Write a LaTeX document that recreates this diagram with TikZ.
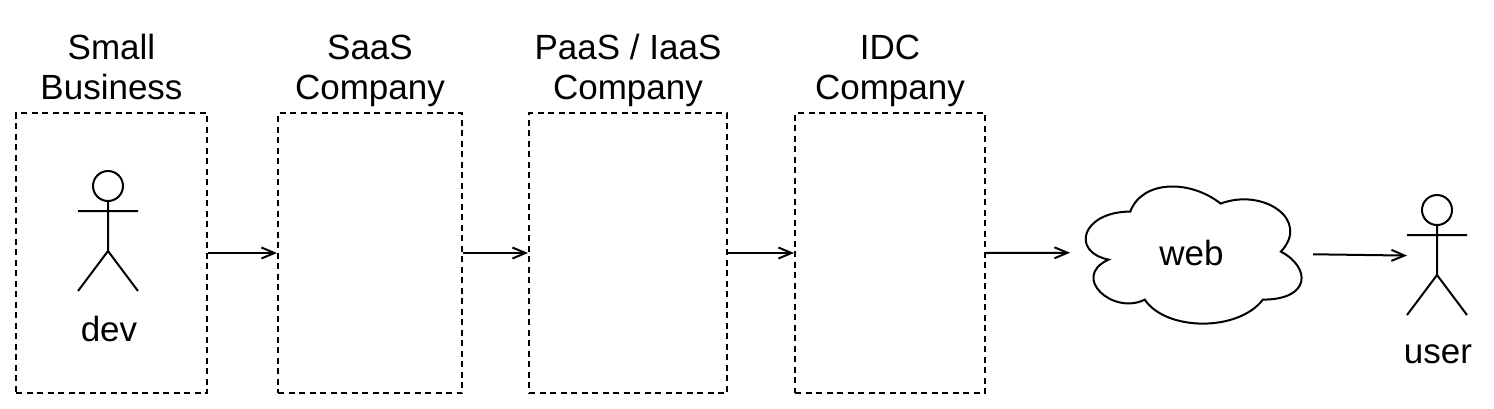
\documentclass[tikz,border=0pt]{standalone}
\usepackage{fontspec}
\setmainfont{Liberation Sans}
\usetikzlibrary{arrows.meta,positioning}
\tikzset{grp/.style={draw,dash pattern=on 6pt off 4.5pt,minimum width=#1,minimum height=280pt,inner sep=0pt},
ttl/.style={font=\fontsize{35}{40}\selectfont,align=center,inner sep=0pt},
lbl/.style={font=\fontsize{35}{42}\selectfont,inner sep=0pt},
actor/.style={minimum width=60pt,minimum height=120pt,inner sep=0pt},
flow/.style={-{Straight Barb[length=13pt,width=11pt]}}}
\newcommand{\stickman}[1]{\begin{scope}[shift={(#1.north west)},x=60pt,y=-120pt]
\draw (0.5,0.125) circle[radius=15pt];
\draw (0.5,0.25) -- (0.5,2/3) (0,1/3) -- (1,1/3) (0,1) -- (0.5,2/3) -- (1,1);
\end{scope}}

\begin{document}
\begin{tikzpicture}[x=1pt,y=-1pt,line width=2pt]
                    \useasboundingbox (0,0) rectangle (1494,408);
                    \node[grp=191pt] (small) at (111.5,253) {};
                    \node[grp=184pt] (saas) at (370,253) {};
                    \node[grp=198pt] (paas) at (628,253) {};
                    \node[grp=190pt] (idc) at (890,253) {};
                    \node[ttl,above=0pt of small] (smallname) {Small\\Business\strut};
                    \node[ttl,above=0pt of saas] (saasname) {SaaS\\Company\strut};
                    \node[ttl,above=0pt of paas] (paasname) {PaaS / IaaS\\Company\strut};
                    \node[ttl,above=0pt of idc] (idcname) {IDC\\Company\strut};
                    \node[actor] (dev) at (109,232) {};
                    \stickman{dev}
                    \node[lbl,below=48pt of dev,anchor=base] (devname) {dev};
                    \node[actor] (user) at (1438,256) {};
                    \stickman{user}
                    \node[lbl,below=46pt of user,anchor=base] (username) {user};
                    \node[lbl,minimum width=241pt,minimum height=160pt] (web) at (1191.5,252.6) {web};
                    \begin{scope}[shift={(web.north west)},x=241pt,y=-160pt]
                        \draw (0.25,0.25) .. controls (0.05,0.25) and (0,0.5) .. (0.16,0.55)
                            .. controls (0,0.66) and (0.18,0.9) .. (0.31,0.8)
                            .. controls (0.4,1) and (0.7,1) .. (0.8,0.8)
                            .. controls (1,0.8) and (1,0.6) .. (0.875,0.5)
                            .. controls (1,0.3) and (0.8,0.1) .. (0.625,0.2)
                            .. controls (0.5,0.05) and (0.3,0.05) .. cycle;
                    \end{scope}
                    \draw[flow] (small) -- (saas);
                    \draw[flow] (saas) -- (paas);
                    \draw[flow] (paas) -- (idc);
                    \draw[flow] (idc) -- (web);
                    \draw[flow] (web) -- (user);
                \end{tikzpicture}
\end{document}
